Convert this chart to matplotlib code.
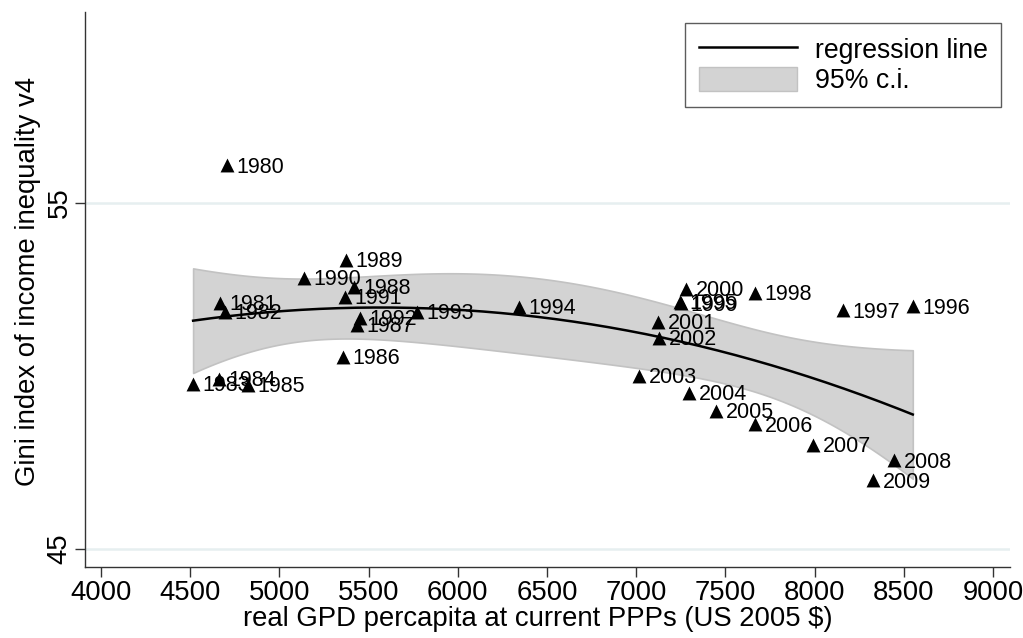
"""Gini index vs real GDP per capita, with quadratic fit and 95% band."""
import numpy as np
import matplotlib

matplotlib.use("Agg")
import matplotlib.pyplot as plt
from matplotlib.lines import Line2D
from matplotlib.patches import Patch

years = list(range(1980, 2010))
gdp = [4706, 4667, 4695, 4516, 4661, 4824, 5357, 5435, 5418, 5373,
       5138, 5368, 5452, 5771, 6343, 7246, 8550, 8157, 7666, 7250,
       7279, 7122, 7128, 7016, 7296, 7447, 7666, 7991, 8445, 8329]
gini = [56.07, 52.11, 51.85, 49.77, 49.91, 49.74, 50.55, 51.47, 52.57, 53.35,
        52.83, 52.28, 51.68, 51.85, 51.99, 52.14, 52.00, 51.89, 52.40, 52.10,
        52.51, 51.56, 51.10, 50.00, 49.51, 48.99, 48.61, 48.01, 47.57, 46.99]

x_ticks = list(range(4000, 9001, 500))
y_ticks = [45, 55]

plt.rcParams["font.family"] = ["Liberation Sans", "DejaVu Sans"]

# quadratic fit with 95% confidence band of the mean prediction
x = np.array(gdp, dtype=float)
y = np.array(gini, dtype=float)
X = np.column_stack([np.ones_like(x), x, x ** 2])
beta, _, _, _ = np.linalg.lstsq(X, y, rcond=None)
resid = y - X @ beta
dof = len(x) - 3
s2 = resid @ resid / dof
xtx_inv = np.linalg.inv(X.T @ X)
grid = np.linspace(x.min(), x.max(), 200)
G = np.column_stack([np.ones_like(grid), grid, grid ** 2])
fit = G @ beta
se = np.sqrt(np.einsum("ij,jk,ik->i", G, xtx_inv, G) * s2)
t_crit = 2.0518  # t(0.975, 27)
lo, hi = fit - t_crit * se, fit + t_crit * se

W, H = 1023, 638
fig = plt.figure(figsize=(W / 100, H / 100), dpi=100)
ax = fig.add_axes([85 / W, 71 / H, 925 / W, 555 / H])

band_col = "#d3d3d3"
ax.fill_between(grid, lo, hi, facecolor=band_col, edgecolor="#c2c2c2", lw=1.2, zorder=1)
ax.plot(grid, fit, color="black", lw=1.8, zorder=2)
ax.scatter(gdp, gini, marker="^", s=100, color="black", zorder=3, linewidths=0)
for yr, gx, gy in zip(years, gdp, gini):
    ax.annotate(str(yr), (gx, gy), xytext=(7, -1.5), textcoords="offset points",
                fontsize=15.5, va="center", ha="left", zorder=4)

ax.set_xlim(3910, 9095)
ax.set_ylim(44.48, 60.5)
ax.set_xticks(x_ticks)
ax.set_yticks(y_ticks)
ax.tick_params(axis="both", length=7, width=1, colors="#333333", labelsize=19.8,
               labelcolor="black", pad=2)
for lab in ax.get_yticklabels():
    lab.set_rotation(90)
    lab.set_va("center")
ax.grid(axis="y", color="#e6eff0", lw=1.8)
ax.set_axisbelow(True)
for side in ("top", "right"):
    ax.spines[side].set_visible(False)
for side in ("left", "bottom"):
    ax.spines[side].set_color("#333333")
    ax.spines[side].set_linewidth(1)

# axis titles placed in figure pixels to match the reference
fig.text(538 / W, 1 - 619 / H, "real GPD percapita at current PPPs (US 2005 $)",
         fontsize=19.8, ha="center", va="center")
fig.text(28 / W, 1 - 281 / H, "Gini index of income inequality v4",
         fontsize=19.8, ha="center", va="center", rotation=90)

handles = [Line2D([], [], color="black", lw=1.8),
           Patch(facecolor=band_col, edgecolor="#c2c2c2")]
leg = ax.legend(handles, ["regression line", "95% c.i."], loc="upper right",
                bbox_to_anchor=(0.99, 0.98), fontsize=19.2, frameon=True, fancybox=False,
                handlelength=3.7, handleheight=1.0, handletextpad=0.65,
                labelspacing=0.12, borderpad=0.5, borderaxespad=0)
leg.get_frame().set_edgecolor("#333333")
leg.get_frame().set_linewidth(1)

fig.savefig("out.png", dpi=100)
